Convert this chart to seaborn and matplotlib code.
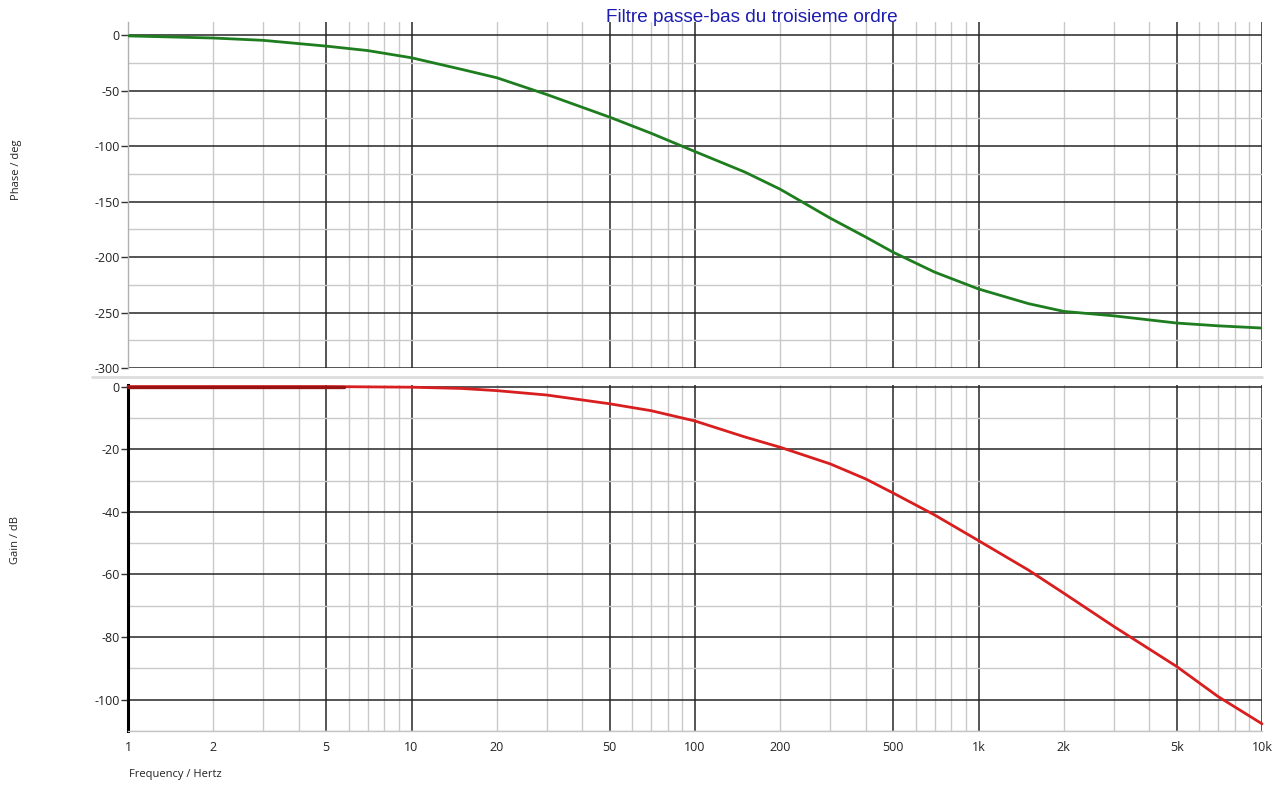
import matplotlib
matplotlib.use("Agg")
import matplotlib.pyplot as plt
from matplotlib.lines import Line2D
from matplotlib.ticker import FixedLocator, FuncFormatter
import numpy as np
import pandas as pd
import seaborn as sns

# Frequency response of the third-order low-pass filter
freq_hz = [1, 2, 3, 5, 7, 10, 15, 20, 30, 50, 70, 100, 150, 200, 300, 400, 500,
           700, 1000, 1500, 2000, 3000, 5000, 7000, 10000]
phase_deg = [-0.8, -2.7, -4.8, -10.0, -14.0, -20.5, -30.9, -38.5, -53.6, -74.0,
             -88.5, -105.0, -123.5, -139.0, -165.0, -182.0, -195.7, -213.6,
             -228.8, -242.0, -249.0, -253.0, -259.5, -262.0, -264.0]
gain_db = [0.0, 0.0, 0.0, 0.0, -0.1, -0.2, -0.6, -1.3, -2.7, -5.5, -7.7, -11.0,
           -16.1, -19.4, -24.7, -29.5, -34.0, -41.0, -49.2, -58.6, -66.0, -76.6,
           -89.4, -99.0, -107.7]

# Low-frequency segment of the gain trace drawn in a darker tone
freq_lo_hz = [1, 2, 3, 4, 5, 5.8]
gain_lo_db = [0.0, 0.0, 0.0, 0.0, 0.0, 0.0]

x_major = [1, 5, 10, 50, 100, 500, 1000, 5000, 10000]
x_minor = [m * d for d in (1, 10, 100, 1000) for m in (2, 3, 4, 6, 7, 8, 9)]
x_minor_labelled = [2, 20, 200, 2000]

df = pd.DataFrame({"freq": freq_hz, "phase": phase_deg, "gain": gain_db})
df_lo = pd.DataFrame({"freq": freq_lo_hz, "gain": gain_lo_db})

sns.set_theme(style="white")
plt.rcParams["font.family"] = ["Open Sans", "DejaVu Sans"]

W, H = 1282, 785
fig = plt.figure(figsize=(W / 100, H / 100), dpi=100)
fig.patch.set_facecolor("white")

ax_p = fig.add_axes([128 / W, (H - 368) / H, 1134 / W, (368 - 21.7) / H])
ax_g = fig.add_axes([128 / W, (H - 731) / H, 1134 / W, (731 - 385) / H])


def freq_label(v, pos=None):
    if v >= 1000:
        return f"{v / 1000:g}k"
    return f"{v:g}"


def minor_label(v, pos=None):
    for m in x_minor_labelled:
        if abs(v - m) < 1e-6 * m:
            return freq_label(v)
    return ""


sns.lineplot(data=df, x="freq", y="phase", ax=ax_p, color="#1e7d1e",
             linewidth=2.0, zorder=3)
sns.lineplot(data=df, x="freq", y="gain", ax=ax_g, color="#d81e1e",
             linewidth=2.0, zorder=3, clip_on=False)
sns.lineplot(data=df_lo, x="freq", y="gain", ax=ax_g, color="#9a1212",
             linewidth=2.4, zorder=4, clip_on=False)

for ax, ylim, major, minor in (
    (ax_p, (-300, 12), np.arange(-300, 1, 50), np.arange(-275, 12, 50)),
    (ax_g, (-110, 0.5), np.arange(-100, 1, 20), np.arange(-110, 0, 20)),
):
    ax.set_xscale("log")
    ax.set_xlim(1, 10000)
    ax.set_ylim(*ylim)
    ax.xaxis.set_major_locator(FixedLocator(x_major))
    ax.xaxis.set_minor_locator(FixedLocator(x_minor))
    ax.xaxis.set_major_formatter(FuncFormatter(freq_label))
    ax.xaxis.set_minor_formatter(FuncFormatter(minor_label))
    ax.yaxis.set_major_locator(FixedLocator(major))
    ax.yaxis.set_minor_locator(FixedLocator(minor))
    ax.yaxis.set_major_formatter(FuncFormatter(lambda v, p: f"{v:g}"))
    ax.set_axisbelow(True)
    ax.grid(which="major", color="#262626", linewidth=1.1)
    ax.grid(which="minor", color="#c9c9c9", linewidth=1.0)
    ax.tick_params(axis="y", which="major", left=True, length=5, width=1,
                   color="#333333", direction="out", pad=1,
                   labelsize=9, labelcolor="#222222")
    ax.tick_params(axis="y", which="minor", left=False)
    ax.tick_params(axis="x", which="both", bottom=False, length=0, pad=7,
                   labelsize=9, labelcolor="#222222")
    ax.set_xlabel("")
    ax.set_ylabel("")
    for s in ("top", "right", "bottom"):
        ax.spines[s].set_visible(False)

ax_p.tick_params(axis="x", which="both", labelbottom=False)
ax_p.spines["left"].set_color("#b0b0b0")
ax_p.spines["left"].set_linewidth(1.0)

ax_g.spines["left"].set_color("#000000")
ax_g.spines["left"].set_linewidth(2.2)
ax_g.spines["bottom"].set_visible(True)
ax_g.spines["bottom"].set_color("#c4c4c4")
ax_g.spines["bottom"].set_linewidth(1.0)

# thin separator between the two panels
fig.add_artist(Line2D([92 / W, 1262 / W], [1 - 377 / H] * 2,
                      color="#dddddd", linewidth=2.0))

fig.text(752 / W, 1 - 17 / H, "Filtre passe-bas du troisieme ordre",
         ha="center", va="center", color="#1c1cb0", fontsize=13.7,
         family=["Liberation Sans", "DejaVu Sans"])
fig.text(16 / W, 1 - 170 / H, "Phase / deg", rotation=90, ha="center",
         va="center", fontsize=8, color="#222222")
fig.text(16 / W, 1 - 540 / H, "Gain / dB", rotation=90, ha="center",
         va="center", fontsize=8, color="#222222")
fig.text(129 / W, 1 - 775 / H, "Frequency / Hertz", ha="left",
         va="center", fontsize=8, color="#222222")

fig.savefig("out.png", dpi=100, facecolor="white")
